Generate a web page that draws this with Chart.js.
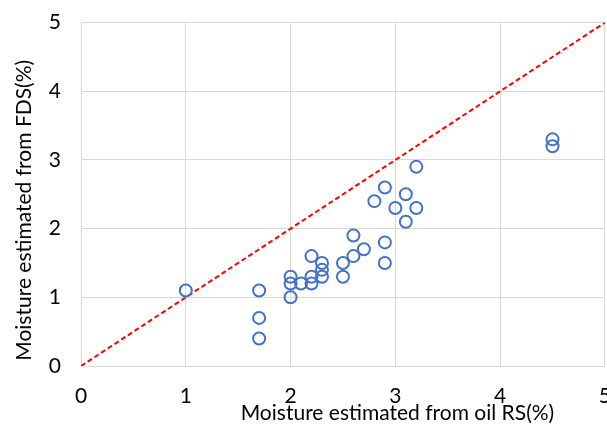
<!DOCTYPE html>
<html>
<head>
<meta charset="utf-8">
<script src="https://cdn.jsdelivr.net/npm/chart.js@4.4.1/dist/chart.umd.min.js"></script>
<style>
  html, body { margin: 0; padding: 0; background: #fff; overflow: hidden; }
  #wrap { position: relative; width: 629px; height: 438px; margin-top: -10px; }
</style>
</head>
<body>
<div id="wrap"><canvas id="chart"></canvas></div>
<script>
// valores
const rsMoisture = [1.0, 1.7, 1.7, 1.7, 2.0, 2.0, 2.0, 2.1, 2.2, 2.2, 2.2, 2.3, 2.3, 2.3, 2.5, 2.5,
                    2.6, 2.6, 2.7, 2.8, 2.9, 2.9, 2.9, 3.0, 3.1, 3.1, 3.2, 3.2, 4.5, 4.5];
const fdsMoisture = [1.1, 1.1, 0.7, 0.4, 1.3, 1.2, 1.0, 1.2, 1.6, 1.3, 1.2, 1.5, 1.4, 1.3, 1.5, 1.3,
                     1.9, 1.6, 1.7, 2.4, 2.6, 1.8, 1.5, 2.3, 2.5, 2.1, 2.9, 2.3, 3.3, 3.2];
const lineX = [0, 5];
const lineY = [0, 5];
const ticks = [0, 1, 2, 3, 4, 5];
const tituloEjeX = 'Moisture estimated from oil RS(%)';
const tituloEjeY = 'Moisture estimated from FDS(%)';

const FONT = 'Lato, "Open Sans", sans-serif';

const puntos = rsMoisture.map((x, i) => ({ x: x, y: fdsMoisture[i] }));
const linea = lineX.map((x, i) => ({ x: x, y: lineY[i] }));

// títulos de ejes dibujados a mano, desplazados como en Excel
const titulos = {
    id: 'titulos',
    afterDraw(chart) {
        const a = chart.chartArea;
        const ctx = chart.ctx;
        ctx.save();
        ctx.font = '21px ' + FONT;
        ctx.fillStyle = '#000';
        ctx.textAlign = 'center';
        ctx.textBaseline = 'middle';
        ctx.fillText(tituloEjeX, a.left + (a.right - a.left) * 0.604, a.bottom + 47);
        ctx.translate(24, (a.top + a.bottom) / 2 + 16);
        ctx.rotate(-Math.PI / 2);
        ctx.fillText(tituloEjeY, 0, 0);
        ctx.restore();
    }
};

new Chart(document.getElementById('chart'), {
    type: 'scatter',
    data: {
        datasets: [{
            label: 'datos',
            data: puntos,
            pointRadius: 6,
            pointHoverRadius: 6,
            pointBorderWidth: 2,
            pointBorderColor: '#4472C4',
            pointBackgroundColor: 'rgba(0,0,0,0)',
            order: 1
        }, {
            type: 'line',
            label: '1:1',
            data: linea,
            borderColor: '#FF0000',
            borderWidth: 2,
            borderDash: [5, 3],
            pointRadius: 0,
            fill: false,
            order: 2
        }]
    },
    options: {
        responsive: true,
        maintainAspectRatio: false,
        animation: false,
        layout: { padding: { top: 11, left: 0, right: 0, bottom: 0 } },
        plugins: {
            legend: { display: false },
            tooltip: { enabled: false }
        },
        scales: {
            x: {
                type: 'linear',
                min: 0,
                max: 5,
                afterBuildTicks: s => { s.ticks = ticks.map(v => ({ value: v })); },
                afterFit: s => { s.height = 62; },
                ticks: { color: '#000', font: { family: FONT, size: 21 }, padding: 18, maxRotation: 0 },
                grid: { color: '#d9d9d9', lineWidth: 1, drawTicks: false },
                border: { color: '#d9d9d9' }
            },
            y: {
                type: 'linear',
                min: 0,
                max: 5,
                afterBuildTicks: s => { s.ticks = ticks.map(v => ({ value: v })); },
                afterFit: s => { s.width = 81; },
                ticks: { color: '#000', font: { family: FONT, size: 21 }, padding: 20 },
                grid: { color: '#d9d9d9', lineWidth: 1, drawTicks: false },
                border: { color: '#d9d9d9' }
            }
        }
    },
    plugins: [titulos]
});
</script>
</body>
</html>
